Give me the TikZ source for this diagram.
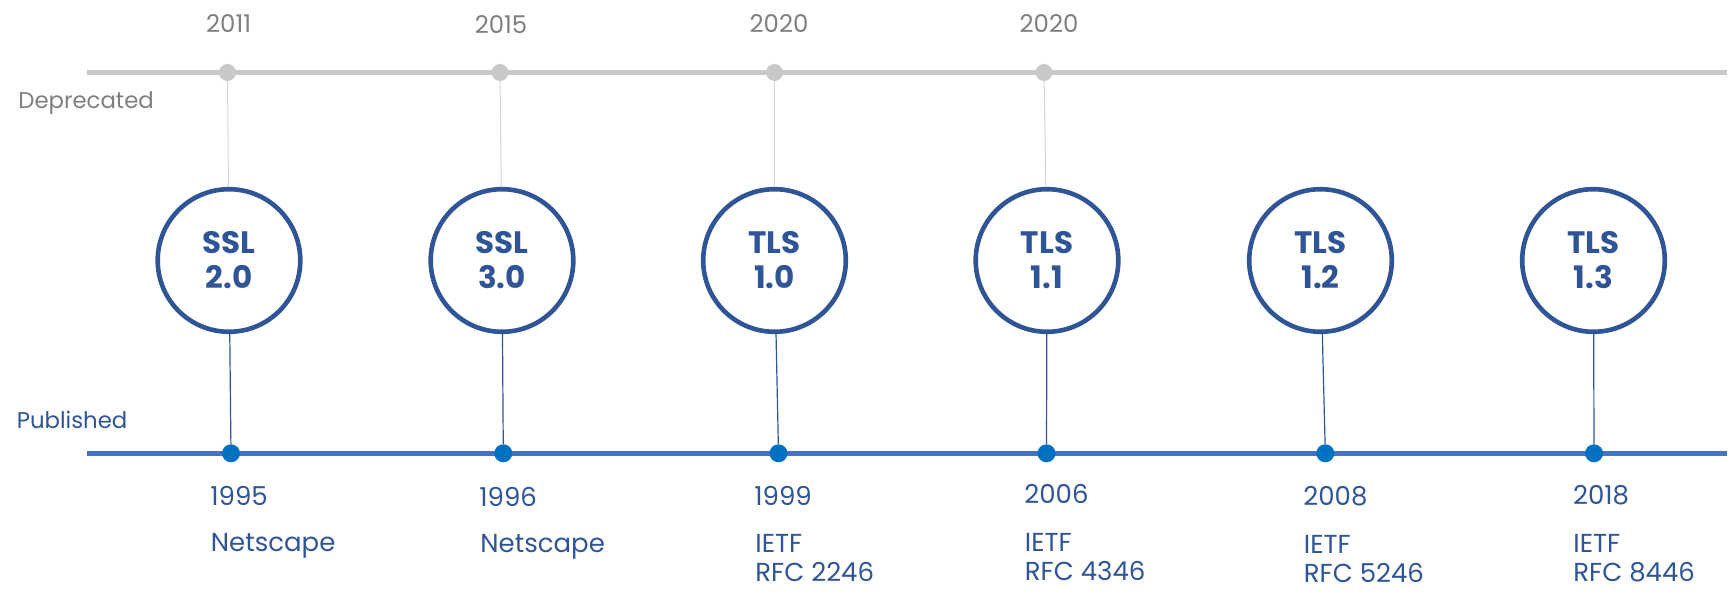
\documentclass[tikz,border=0pt]{standalone}
\usepackage{fontspec}
\setmainfont{Poppins}
\usetikzlibrary{positioning}
\definecolor{protoblue}{HTML}{2F5597}
\definecolor{railblue}{HTML}{4472C4}
\definecolor{dotblue}{HTML}{0070C0}
\definecolor{railgray}{HTML}{C8C8C8}
\definecolor{textgray}{HTML}{7F7F7F}
\definecolor{linegray}{HTML}{D4D4D4}
\tikzset{
  proto/.style={circle, draw=protoblue, line width=2.3pt, minimum size=71.3pt, inner sep=0pt, align=center, text=protoblue, font=\fontsize{15.5}{17.5}\selectfont\bfseries},
  depdot/.style={circle, fill=railgray, minimum size=8.5pt, inner sep=0pt},
  pubdot/.style={circle, fill=dotblue, minimum size=9pt, inner sep=0pt},
  deprail/.style={draw=railgray, line width=2.5pt},
  pubrail/.style={draw=railblue, line width=2.5pt},
  depline/.style={draw=linegray, line width=0.5pt},
  publine/.style={draw=protoblue, line width=0.6pt},
  sidelbl/.style={anchor=base west, inner sep=0pt, font=\fontsize{11.4}{13}\selectfont},
  depyear/.style={anchor=base, inner sep=0pt, text=textgray, font=\fontsize{12.2}{14}\selectfont},
  pubyear/.style={anchor=base west, inner sep=0pt, text=protoblue, font=\fontsize{13}{14.5}\selectfont},
  pubnote/.style={pubyear, align=left}
}
\begin{document}
\begin{tikzpicture}[x=0.5pt, y=-0.5pt]
\useasboundingbox (0,0) rectangle (1730,604);
% the two rails
\coordinate (depstart) at (87,72.5);
\coordinate (depend) at (1727,72.5);
\coordinate (pubstart) at (87,453);
\coordinate (pubend) at (1727,453);
\draw[deprail] (depstart) -- (depend);
\draw[pubrail] (pubstart) -- (pubend);
\node[sidelbl, text=textgray] (deplbl) at (18,108.3) {Deprecated};
\node[sidelbl, text=protoblue] (publbl) at (16.5,429) {Published};
% versions
\node[proto] (ssl2) at (229,260.5) {SSL\\2.0};
\node[proto] (ssl3) at (502,260.5) {SSL\\3.0};
\node[proto] (tls10) at (774.5,260.5) {TLS\\1.0};
\node[proto] (tls11) at (1047,260.5) {TLS\\1.1};
\node[proto] (tls12) at (1320.5,260.5) {TLS\\1.2};
\node[proto] (tls13) at (1593.5,260.5) {TLS\\1.3};
% deprecated
\node[depdot] (depssl2) at (227.5,72.5) {};
\node[depdot] (depssl3) at (500,72.5) {};
\node[depdot] (deptls10) at (774.5,72.5) {};
\node[depdot] (deptls11) at (1044,72.5) {};
\node[depyear] (depyr2) at (228.7,32.5) {2011};
\node[depyear] (depyr3) at (501,33.5) {2015};
\node[depyear] (depyr10) at (779,32.5) {2020};
\node[depyear] (depyr11) at (1049,32.5) {2020};
\draw[depline] (depssl2) -- (ssl2);
\draw[depline] (depssl3) -- (ssl3);
\draw[depline] (deptls10) -- (tls10);
\draw[depline] (deptls11) -- (tls11);
% published
\node[pubdot] (pubssl2) at (231,453.3) {};
\node[pubdot] (pubssl3) at (503.3,453.3) {};
\node[pubdot] (pubtls10) at (778.5,453.3) {};
\node[pubdot] (pubtls11) at (1046.5,453.3) {};
\node[pubdot] (pubtls12) at (1325.3,453.3) {};
\node[pubdot] (pubtls13) at (1594,453.3) {};
\draw[publine] (ssl2) -- (pubssl2);
\draw[publine] (ssl3) -- (pubssl3);
\draw[publine] (tls10) -- (pubtls10);
\draw[publine] (tls11) -- (pubtls11);
\draw[publine] (tls12) -- (pubtls12);
\draw[publine] (tls13) -- (pubtls13);
\node[pubyear] (pubyr2) at (210,505) {1995};
\node[pubyear] (pubyr3) at (479,506) {1996};
\node[pubyear] (pubyr10) at (754,505) {1999};
\node[pubyear] (pubyr11) at (1024,503.3) {2006};
\node[pubyear] (pubyr12) at (1303,505) {2008};
\node[pubyear] (pubyr13) at (1572.7,504) {2018};
% base of a two-line note is its last line
\node[pubnote] (bodyssl2) at (210.5,551.7) {Netscape};
\node[pubnote] (bodyssl3) at (480,552.7) {Netscape};
\node[pubnote] (bodytls10) at (755,581) {IETF\\RFC 2246};
\node[pubnote] (bodytls11) at (1024.5,580) {IETF\\RFC 4346};
\node[pubnote] (bodytls12) at (1303.5,582.3) {IETF\\RFC 5246};
\node[pubnote] (bodytls13) at (1573,581) {IETF\\RFC 8446};
\end{tikzpicture}
\end{document}
